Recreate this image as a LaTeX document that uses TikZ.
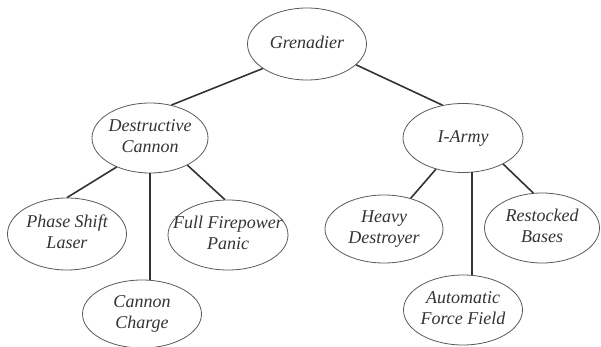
\documentclass[tikz,border=0pt]{standalone}
\usepackage{fontspec}
\setmainfont{Liberation Serif}
\usetikzlibrary{shapes.geometric}
% keeps the label from widening the ellipse
\newcommand{\nm}[1]{\makebox[0pt]{\begin{tabular}{@{}c@{}}#1\end{tabular}}}

\begin{document}
\begin{tikzpicture}[x=1pt, y=-1pt,
    item/.style={draw=black!65, line width=0.8pt, ellipse, inner sep=0pt,
      minimum width=119pt, minimum height=70pt,
      font=\fontsize{18}{21}\selectfont\itshape, text=black!80},
    link/.style={draw=black!80, line width=1.6pt}]
  \useasboundingbox (0,0) rectangle (601,347);

  \node[item, minimum height=72pt] (gren) at (307,44) {\nm{Grenadier}};
  \node[item, minimum width=116pt] (dcannon) at (150,138) {\nm{Destructive\\Cannon}};
  \node[item, minimum width=120pt, minimum height=69pt] (iarmy) at (463,138) {\nm{I-Army}};

  \node[item, minimum height=72pt] (laser) at (67,234) {\nm{Phase Shift\\Laser}};
  \node[item, minimum width=120pt] (panic) at (228,235) {\nm{Full Firepower\\Panic}};
  \node[item, minimum height=68pt] (charge) at (142,314) {\nm{Cannon\\Charge}};

  \node[item, minimum width=118pt, minimum height=68pt] (destroyer) at (384,229) {\nm{Heavy\\Destroyer}};
  \node[item, minimum width=115pt] (bases) at (542,228) {\nm{Restocked\\Bases}};
  \node[item] (field) at (463,310) {\nm{Automatic\\Force Field}};

  \draw[link] (gren.209) -- (dcannon.57);
  \draw[link] (gren.337) -- (iarmy.122);

  \draw[link] (dcannon.221) -- (laser.north);
  \draw[link] (dcannon.south) -- (dcannon.south |- charge.north);
  \draw[link] (dcannon.324) -- (panic.95);

  \draw[link] (iarmy.229) -- (destroyer.49);
  \draw[link] (iarmy.285) -- (iarmy.285 |- field.north);
  \draw[link] (iarmy.327) -- (bases.104);
\end{tikzpicture}
\end{document}
